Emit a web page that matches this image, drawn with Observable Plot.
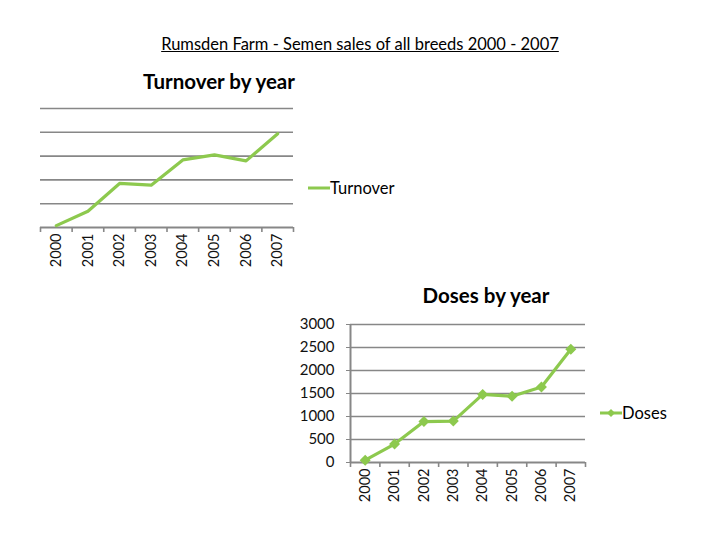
<!DOCTYPE html>
<html>
<head>
<meta charset="utf-8">
<script src="https://cdn.jsdelivr.net/npm/d3@7"></script>
<script src="https://cdn.jsdelivr.net/npm/@observablehq/plot@0.6"></script>
<style>
  html, body { margin: 0; padding: 0; background: #fff; }
  #wrap { position: relative; width: 720px; height: 540px; font-family: Lato, "Open Sans", sans-serif; color: #000; overflow: hidden; }
  .abs { position: absolute; white-space: nowrap; }
  #maintitle { left: 0; width: 720px; top: 34px; text-align: center; font-size: 16.5px; text-decoration: underline; }
  #t1 { left: 119px; width: 200px; top: 69px; text-align: center; font-size: 20.5px; font-weight: bold; }
  #t2 { left: 386px; width: 200px; top: 283px; text-align: center; font-size: 20.5px; font-weight: bold; }
  .leg { font-size: 16.5px; display: flex; align-items: center; }
  #chart1 { left: 0; top: 95px; }
  #chart2 { left: 290px; top: 310px; }
</style>
</head>
<body>
<div id="wrap">
  <div id="maintitle" class="abs">Rumsden Farm - Semen sales of all breeds 2000 - 2007</div>
  <div id="t1" class="abs">Turnover by year</div>
  <div id="t2" class="abs">Doses by year</div>
  <div id="chart1" class="abs"></div>
  <div id="chart2" class="abs"></div>
  <div id="leg1" class="abs leg" style="left:308px; top:178px;"></div>
  <div id="leg2" class="abs leg" style="left:600px; top:403px;"></div>
</div>
<script>
const years = [2000, 2001, 2002, 2003, 2004, 2005, 2006, 2007];
const turnover = [800, 6800, 18500, 17800, 28400, 30500, 28000, 39400];
const doses = [50, 400, 890, 900, 1480, 1440, 1640, 2460];
const turnoverTicks = [0, 10000, 20000, 30000, 40000, 50000];
const doseTicks = [0, 500, 1000, 1500, 2000, 2500, 3000];
const seriesNames = ["Turnover", "Doses"];

const green = "#8DC94E";
const grid = "#878787";
const font = "Lato, 'Open Sans', sans-serif";

const tData = years.map((y, i) => ({year: y, value: turnover[i]}));
const dData = years.map((y, i) => ({year: y, value: doses[i]}));
const bounds = [years[0] - 0.5, ...years.map(y => y + 0.5)];
const xDomain = [years[0] - 0.5, years[years.length - 1] + 0.5];

const chart1 = Plot.plot({
  width: 300, height: 190,
  marginLeft: 40, marginRight: 7, marginTop: 13, marginBottom: 58,
  style: {fontFamily: font, fontSize: "14px", color: "#111", background: "transparent", overflow: "visible"},
  x: {domain: xDomain, label: null},
  y: {domain: [0, turnoverTicks[turnoverTicks.length - 1]], axis: null},
  marks: [
    Plot.ruleY(turnoverTicks.slice(1), {stroke: grid, strokeWidth: 1.6}),
    Plot.ruleY([0], {stroke: grid, strokeWidth: 2}),
    Plot.axisX({ticks: bounds, tickSize: 5, tickFormat: () => "", label: null, stroke: grid, strokeWidth: 1.6}),
    Plot.axisX({ticks: years, tickSize: 0, tickPadding: 6, tickRotate: -90, tickFormat: d => String(d), label: null, fontSize: 14.5}),
    Plot.line(tData, {x: "year", y: "value", stroke: green, strokeWidth: 3.2})
  ]
});
document.getElementById("chart1").appendChild(chart1);

const chart2 = Plot.plot({
  width: 300, height: 213,
  marginLeft: 60, marginRight: 5, marginTop: 14, marginBottom: 61,
  style: {fontFamily: font, fontSize: "14px", color: "#111", background: "transparent", overflow: "visible"},
  x: {domain: xDomain, label: null},
  y: {domain: [0, doseTicks[doseTicks.length - 1]], label: null},
  marks: [
    Plot.ruleY(doseTicks.slice(1), {stroke: grid, strokeWidth: 1.6}),
    Plot.ruleY([0], {stroke: grid, strokeWidth: 2}),
    Plot.ruleX([xDomain[0]], {stroke: grid, strokeWidth: 2}),
    Plot.axisY({ticks: doseTicks, tickSize: 4, tickPadding: 12, tickFormat: d => String(d), label: null, stroke: grid, fontSize: 15}),
    Plot.axisX({ticks: bounds, tickSize: 5, tickFormat: () => "", label: null, stroke: grid, strokeWidth: 1.6}),
    Plot.axisX({ticks: years, tickSize: 0, tickPadding: 6, tickRotate: -90, tickFormat: d => String(d), label: null, fontSize: 14.5}),
    Plot.line(dData, {x: "year", y: "value", stroke: green, strokeWidth: 3.2}),
    Plot.dot(dData, {x: "year", y: "value", symbol: "diamond2", r: 4, fill: green, stroke: green})
  ]
});
document.getElementById("chart2").appendChild(chart2);

// legends
const NS = "http://www.w3.org/2000/svg";
function legendItem(el, name, marker) {
  const svg = document.createElementNS(NS, "svg");
  svg.setAttribute("width", 22); svg.setAttribute("height", 20);
  const l = document.createElementNS(NS, "line");
  l.setAttribute("x1", 0); l.setAttribute("x2", 22); l.setAttribute("y1", 10); l.setAttribute("y2", 10);
  l.setAttribute("stroke", green); l.setAttribute("stroke-width", 3);
  svg.appendChild(l);
  if (marker) {
    const p = document.createElementNS(NS, "path");
    p.setAttribute("d", "M11,6 L15,10 L11,14 L7,10 Z");
    p.setAttribute("fill", green);
    svg.appendChild(p);
  }
  el.appendChild(svg);
  const s = document.createElement("span");
  s.textContent = name;
  el.appendChild(s);
}
legendItem(document.getElementById("leg1"), seriesNames[0], false);
legendItem(document.getElementById("leg2"), seriesNames[1], true);
</script>
</body>
</html>
